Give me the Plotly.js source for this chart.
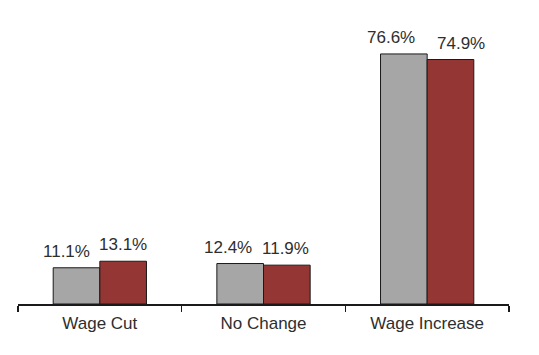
<!DOCTYPE html>
<html><head><meta charset="utf-8">
<script src="https://cdn.plot.ly/plotly-3.0.1.min.js"></script>
<style>html,body{margin:0;padding:0;background:#fff}#chart{width:539px;height:355px}</style>
</head><body><div id="chart"></div>
<script>
const categories = ["Wage Cut", "No Change", "Wage Increase"];
const seriesA = [11.1, 12.4, 76.6];
const seriesB = [13.1, 11.9, 74.9];

// label placement nudges (pixels), as in the original's hand-placed labels
const nudgeA = [-10, -12, -13];
const nudgeB = [0, -1, 11];

const bargap = 0.43;
const half = (1 - bargap) / 4;
const labelFont = {family: "Liberation Sans, Arial, sans-serif", size: 17, color: "#2e2e2e"};

const traces = [
  {type: "bar", x: categories, y: seriesA, name: "A",
   marker: {color: "#A6A6A6", line: {color: "#1a1a1a", width: 1}}},
  {type: "bar", x: categories, y: seriesB, name: "B",
   marker: {color: "#943634", line: {color: "#1a1a1a", width: 1}}}
];

const annotations = [];
[[seriesA, nudgeA], [seriesB, nudgeB]].forEach(([s, nudge], si) => {
  s.forEach((v, i) => {
    annotations.push({x: i + (si === 0 ? -half : half), y: v, xref: "x", yref: "y",
      text: v.toFixed(1) + "%", showarrow: false, yanchor: "bottom", yshift: 5,
      xshift: nudge[i], font: labelFont});
  });
});

const layout = {
  width: 539, height: 355,
  margin: {l: 18, r: 30, t: 20, b: 51},
  paper_bgcolor: "#fff", plot_bgcolor: "#fff",
  showlegend: false,
  barmode: "group", bargap: bargap, bargroupgap: 0,
  xaxis: {type: "category", range: [-0.5, 2.5], showline: true, linecolor: "#1a1a1a", linewidth: 1.5,
    ticks: "outside", tickson: "boundaries", ticklen: 6, tickcolor: "#1a1a1a", tickwidth: 1.5,
    showgrid: false, zeroline: false, tickfont: labelFont, ticklabelstandoff: 3},
  yaxis: {range: [0, 87], visible: false, showgrid: false, zeroline: false},
  annotations: annotations
};

Plotly.newPlot("chart", traces, layout, {staticPlot: true, displayModeBar: false});
</script></body></html>
